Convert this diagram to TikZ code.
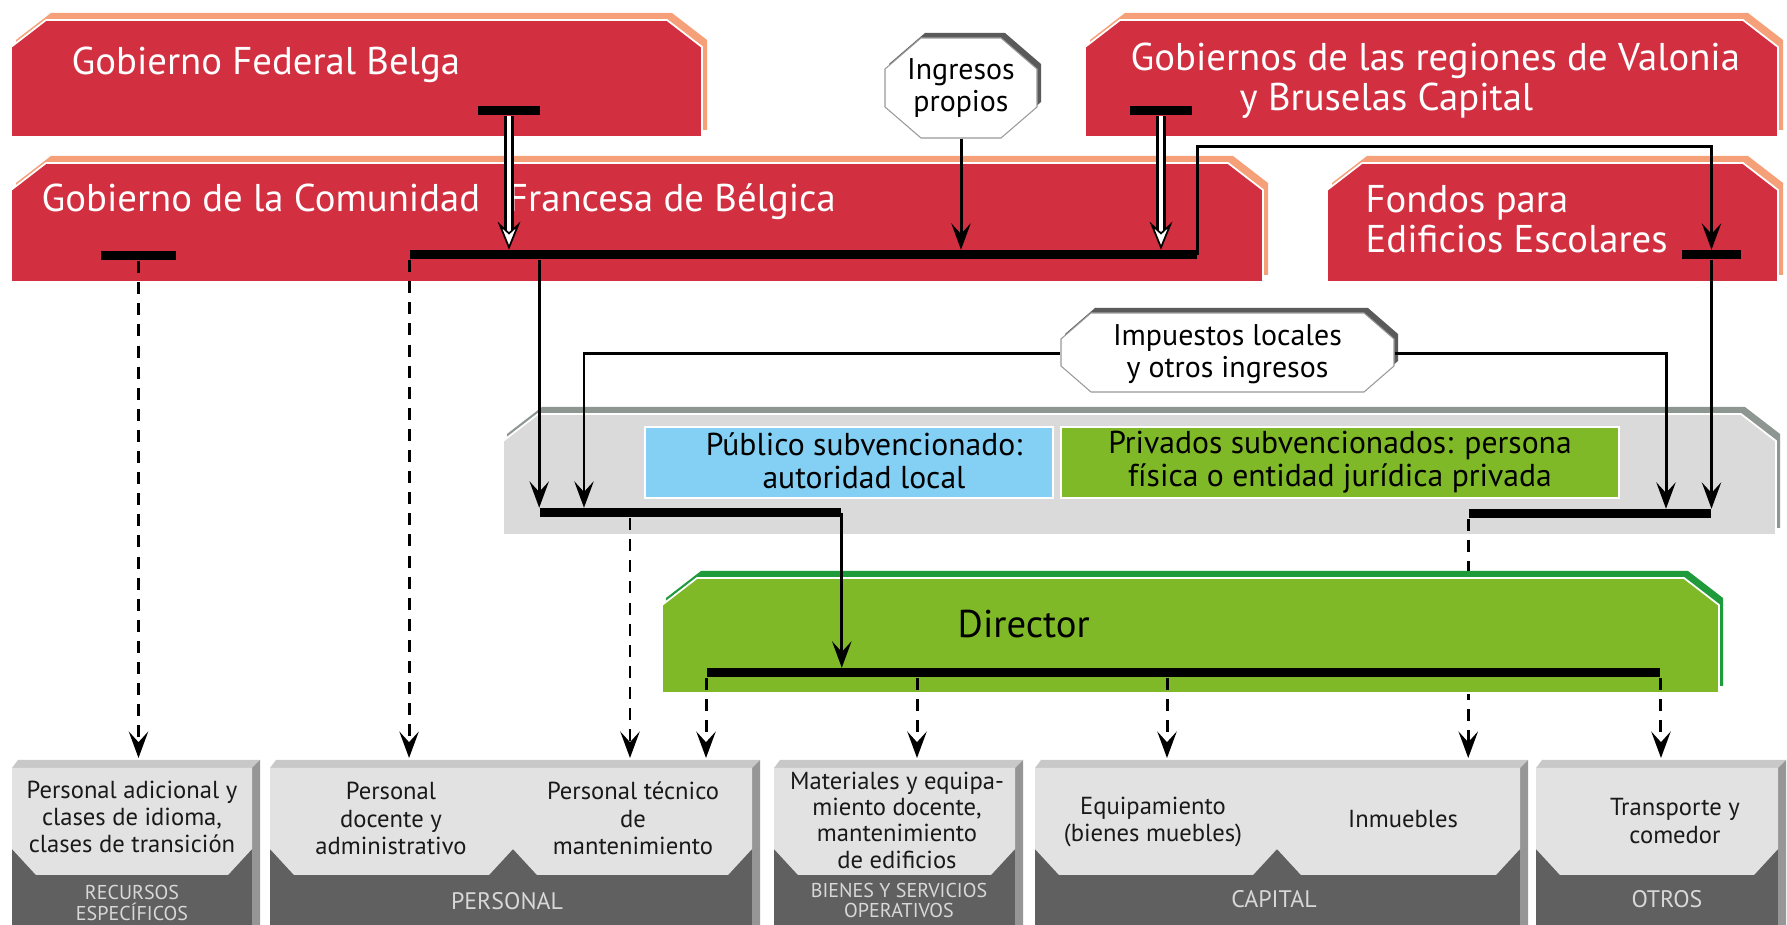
\documentclass[tikz,border=0pt]{standalone}
\usepackage{fontspec}
\setmainfont{PT Sans}
\usetikzlibrary{arrows.meta}

\definecolor{govred}{RGB}{210,47,64}
\definecolor{govrim}{RGB}{245,160,120}
\definecolor{panelgray}{RGB}{218,218,218}
\definecolor{panelrim}{RGB}{142,150,146}
\definecolor{pubblue}{RGB}{132,207,244}
\definecolor{privgreen}{RGB}{127,185,40}
\definecolor{dirrim}{RGB}{32,155,60}
\definecolor{costdark}{RGB}{96,96,96}
\definecolor{costlight}{RGB}{226,226,226}
\definecolor{costtop}{RGB}{200,200,200}
\definecolor{costside}{RGB}{150,150,150}
\definecolor{costlabel}{RGB}{216,216,216}
\definecolor{octrim}{RGB}{90,90,90}

% box with cut top corners: x1,y1,x2,y2 (pixel units, y downwards)
\newcommand{\cutbox}[4]{(#1,#4) -- (#1,#2+27) -- (#1+35,#2) -- (#3-35,#2) -- (#3,#2+27) -- (#3,#4) -- cycle}
% octagon: x1,y1,x2,y2,chamfer x,chamfer y
\newcommand{\octbox}[6]{(#1,#2+#6) -- (#1+#5,#2) -- (#3-#5,#2) -- (#3,#2+#6) -- (#3,#4-#6) -- (#3-#5,#4) -- (#1+#5,#4) -- (#1,#4-#6) -- cycle}
% cost block (front from x1 to x2) and its light panel
\newcommand{\costblock}[2]{%
  \fill[costtop] (#1,768) -- (#1+6,760) -- (#2+8,760) -- (#2,768) -- cycle;
  \fill[costside] (#2,768) -- (#2+8,760) -- (#2+8,925) -- (#2,925) -- cycle;
  \fill[costdark] (#1,768) rectangle (#2,925);}
\newcommand{\costpanel}[2]{%
  \fill[costlight] (#1,768) -- (#2,768) -- (#2,849) -- (#2-24,875) -- (#1+24,875) -- (#1,849) -- cycle;}

\begin{document}
\begin{tikzpicture}[x=0.01cm, y=-0.01cm,
    bar/.style={fill=black, inner sep=0pt, minimum height=0.9mm},
    flow/.style={line width=0.85pt, -{Stealth[length=7.5pt, width=5.5pt, inset=3pt]}},
    dashflow/.style={flow, dash pattern=on 3.4pt off 2.6pt},
    hollow/.style={draw=white, line width=1.4pt,
      -{Stealth[length=8pt, width=6.5pt, inset=3pt, color=black, fill=white, line width=0.5pt]},
      preaction={draw=black, line width=2.6pt, -, shorten >=5pt}},
    govtext/.style={text=white, inner sep=0pt, font=\fontsize{11}{11.4}\selectfont},
    octtext/.style={inner sep=0pt, align=center, font=\fontsize{8.5}{9}\selectfont},
    kindtext/.style={inner sep=0pt, align=center, font=\fontsize{9}{9.4}\selectfont},
    costtext/.style={inner sep=0pt, align=center, text=black!90, font=\fontsize{7}{7.8}\selectfont},
    costname/.style={inner sep=0pt, align=center, text=costlabel, font=\fontsize{5.7}{5.8}\selectfont}
  ]
  \path[use as bounding box, fill=white] (0,0) rectangle (1787,925);

  % Governments
  \fill[govrim, shift={(5,-7)}] \cutbox{11}{20}{702}{137};
  \filldraw[fill=govred, draw=white, line width=0.5pt] \cutbox{11}{20}{702}{137};
  \fill[govrim, shift={(5,-7)}] \cutbox{1085}{20}{1778}{137};
  \filldraw[fill=govred, draw=white, line width=0.5pt] \cutbox{1085}{20}{1778}{137};
  \fill[govrim, shift={(5,-7)}] \cutbox{11}{163}{1263}{282};
  \filldraw[fill=govred, draw=white, line width=0.5pt] \cutbox{11}{163}{1263}{282};
  \fill[govrim, shift={(5,-7)}] \cutbox{1327}{163}{1778}{282};
  \filldraw[fill=govred, draw=white, line width=0.5pt] \cutbox{1327}{163}{1778}{282};

  \node[govtext, anchor=base west] (federal) at (71,75) {Gobierno Federal Belga};
  \node[govtext, anchor=west, align=left] (regiones) at (1130,81)
    {Gobiernos de las regiones de Valonia\\\hspace*{31pt}y Bruselas Capital};
  \node[govtext, anchor=base west] (comunidad) at (41,212)
    {Gobierno de la Comunidad\hspace{8pt}Francesa de Bélgica};
  \node[govtext, anchor=west, align=left] (fondos) at (1365,219) {Fondos para\\Edificios Escolares};

  % Subsidised school boards
  \fill[panelrim, shift={(4,-7)}] \cutbox{503}{414}{1776}{535};
  \filldraw[fill=panelgray, draw=white, line width=0.5pt] \cutbox{503}{414}{1776}{535};
  \node[fill=pubblue, draw=white, line width=0.6pt, minimum width=40.8mm, minimum height=7.1mm] (publico) at (849,462.5) {};
  \node[kindtext] (publicotext) at (864,461) {Público subvencionado:\\autoridad local};
  \node[kindtext, fill=privgreen, draw=white, line width=0.6pt, minimum width=55.8mm, minimum height=7.1mm] (privado) at (1340,462.5)
    {Privados subvencionados: persona\\física o entidad jurídica privada};

  % Cost blocks
  \costblock{12}{252} \costpanel{12}{252}
  \costblock{270}{752} \costpanel{270}{513} \costpanel{513}{752}
  \costblock{774}{1015} \costpanel{774}{1015}
  \costblock{1035}{1520} \costpanel{1035}{1277} \costpanel{1277}{1520}
  \costblock{1536}{1778} \costpanel{1536}{1778}

  \node[costtext] (adicional) at (132,817) {Personal adicional y\\clases de idioma,\\clases de transición};
  \node[costtext] (docente) at (391,818.5) {Personal\\docente y\\administrativo};
  \node[costtext] (tecnico) at (633,818.5) {Personal técnico\\de\\mantenimiento};
  \node[costtext, font=\fontsize{7}{7.5}\selectfont] (materiales) at (897,820)
    {Materiales y equipa-\\miento docente,\\mantenimiento\\de edificios};
  \node[costtext] (equipamiento) at (1153,822) {Equipamiento\\(bienes muebles)};
  \node[costtext, anchor=base] (inmuebles) at (1403,828) {Inmuebles};
  \node[costtext] (transporte) at (1675,821) {Transporte y\\comedor};

  \node[costname] (recursos) at (132,903) {RECURSOS\\ESPECÍFICOS};
  \node[costname, anchor=base, font=\fontsize{6.8}{7}\selectfont] (personal) at (507,910) {PERSONAL};
  \node[costname] (bienes) at (899,900.5) {BIENES Y SERVICIOS\\OPERATIVOS};
  \node[costname, anchor=base, font=\fontsize{6.8}{7}\selectfont] (capital) at (1274,908) {CAPITAL};
  \node[costname, anchor=base, font=\fontsize{6.8}{7}\selectfont] (otros) at (1667,908) {OTROS};

  % Bars
  \node[bar, minimum width=6.1mm] (fedbar) at (509,111) {};
  \node[bar, minimum width=6.1mm] (regbar) at (1161,111) {};
  \node[bar, minimum width=7.5mm] (commbar) at (138.5,256) {};
  \node[bar, minimum width=78.7mm] (mainbar) at (803.5,255) {};
  \node[bar, minimum width=5.9mm] (fondosbar) at (1711.5,255) {};
  \node[bar, minimum width=30.1mm] (pubbar) at (690.5,513) {};
  \node[bar, minimum width=24.2mm] (privbar) at (1590,514) {};

  \coordinate (toprow) at (0,758);
  \coordinate (rail) at (0,147);
  \coordinate (pubin) at (584,0);
  \coordinate (privin) at (1666,0);
  \coordinate (tecpub) at (630,0);
  \coordinate (matin) at (917,0);
  \coordinate (equipin) at (1167,0);

  \draw[dashflow] (privbar.south west) -- (privbar.south west |- toprow);

  % Director
  \fill[dirrim, shift={(4,-7)}] \cutbox{662}{578}{1719}{693};
  \filldraw[fill=privgreen, draw=white, line width=0.5pt] \cutbox{662}{578}{1719}{693};
  \node[govtext, text=black, anchor=base west] (director) at (957,638) {Director};
  \node[bar, minimum width=95.3mm] (dirbar) at (1183.5,673) {};

  % Own revenue and local taxes
  \fill[octrim, shift={(4,-5)}] \octbox{885}{38}{1037}{138}{36}{31};
  \filldraw[fill=white, draw=black!40, line width=0.3pt] \octbox{885}{38}{1037}{138}{36}{31};
  \node[octtext, minimum width=15.2mm, minimum height=10mm] (ingresos) at (961,88) {Ingresos\\propios};
  \fill[octrim, shift={(4,-5)}] \octbox{1061}{313}{1394}{392}{30}{26};
  \filldraw[fill=white, draw=black!40, line width=0.3pt] \octbox{1061}{313}{1394}{392}{30}{26};
  \node[octtext, minimum width=33.3mm, minimum height=7.9mm] (impuestos) at (1227.5,354) {Impuestos locales\\y otros ingresos};

  % Flows
  \draw[hollow] (fedbar.south) -- (fedbar.south |- mainbar.north);
  \draw[hollow] (regbar.south) -- (regbar.south |- mainbar.north);
  \draw[flow] (ingresos.south) -- (ingresos.south |- mainbar.north);
  \draw[flow] (mainbar.east) |- (rail -| fondosbar) -- (fondosbar.north);
  \draw[flow] (fondosbar.south) -- (fondosbar.south |- privbar.north);
  \draw[flow] (mainbar.south -| pubbar.west) -- (pubbar.north west);
  \draw[flow] (impuestos.west) -| (pubin |- pubbar.north);
  \draw[flow] (impuestos.east) -| (privin |- privbar.north);
  \draw[flow] (pubbar.east) -- (pubbar.east |- dirbar.north);

  % Spending
  \draw[dashflow] (commbar.south) -- (commbar.south |- toprow);
  \draw[dashflow] (mainbar.south west) -- (mainbar.south west |- toprow);
  \draw[dashflow] (tecpub |- pubbar.south) -- (tecpub |- toprow);
  \draw[dashflow] (dirbar.south west) -- (dirbar.south west |- toprow);
  \draw[dashflow] (matin |- dirbar.south) -- (matin |- toprow);
  \draw[dashflow] (equipin |- dirbar.south) -- (equipin |- toprow);
  \draw[dashflow] (dirbar.south east) -- (dirbar.south east |- toprow);
\end{tikzpicture}
\end{document}
